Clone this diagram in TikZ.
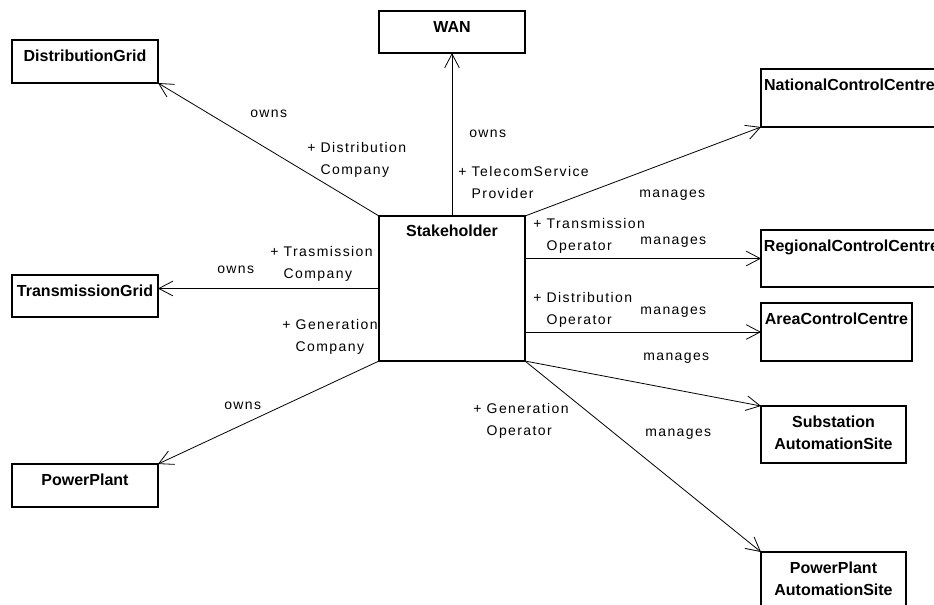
\documentclass[tikz,border=0pt]{standalone}
\usepackage{fontspec}
\setmainfont{Liberation Sans}
\newfontfamily\rolefont[LetterSpace=10]{Liberation Sans}
\usetikzlibrary{arrows.meta}

\tikzset{
  classbox/.style={draw, line width=0.8pt, inner sep=0pt, outer sep=0pt},
  classname/.style={font=\fontsize{12}{16.5}\selectfont\bfseries, inner sep=0pt, anchor=base, align=center},
  rolelabel/.style={font=\rolefont\fontsize{10.5}{16.5}\selectfont, inner sep=0pt, anchor=base west, align=left},
  assoc/.style={line width=0.6pt, -{Straight Barb[length=10.5pt,width=11pt,line width=0.6pt]}}
}

\begin{document}
\begin{tikzpicture}[x=0.75pt, y=-0.75pt]
  \fill[white] (0,0) rectangle (934,604);
  \useasboundingbox (0,0) rectangle (934,604);
  \clip (0,0) rectangle (934,604);

  % classes
  \node[classbox, minimum width=109.5pt, minimum height=32.25pt] (dg) at (85,61.5) {};
  \node[classbox, minimum width=109.5pt, minimum height=31.5pt] (wan) at (452,32) {};
  \node[classbox, minimum width=109.5pt, minimum height=31.5pt] (tg) at (85,296) {};
  \node[classbox, minimum width=109.5pt, minimum height=32.25pt] (pp) at (85,485.5) {};
  \node[classbox, minimum width=109.5pt, minimum height=108.75pt] (sh) at (452,288.5) {};
  \node[classbox, minimum width=132.75pt, minimum height=43.5pt] (ncc) at (849.5,98) {};
  \node[classbox, minimum width=135.75pt, minimum height=42.75pt] (rcc) at (851.5,258.5) {};
  \node[classbox, minimum width=113.25pt, minimum height=43.5pt] (acc) at (836.5,332) {};
  \node[classbox, minimum width=108.75pt, minimum height=42.75pt] (sas) at (833.5,434.5) {};
  \node[classbox, minimum width=108.75pt, minimum height=43.5pt] (ppas) at (833.5,581) {};

  % class names (a two-line name sits on the baseline of its last line)
  \node[classname] (dgname) at ([yshift=-15.75pt]dg.north) {DistributionGrid};
  \node[classname] (wanname) at ([yshift=-15.75pt]wan.north) {WAN};
  \node[classname] (tgname) at ([yshift=-15.75pt]tg.north) {TransmissionGrid};
  \node[classname] (ppname) at ([yshift=-15.75pt]pp.north) {PowerPlant};
  \node[classname] (shname) at ([yshift=-15pt]sh.north) {Stakeholder};
  \node[classname] (nccname) at ([yshift=-15.75pt]ncc.north) {NationalControlCentre};
  \node[classname] (rccname) at ([yshift=-15.75pt]rcc.north) {RegionalControlCentre};
  \node[classname] (accname) at ([yshift=-15.75pt]acc.north) {AreaControlCentre};
  \node[classname] (sasname) at ([yshift=-32.25pt]sas.north) {Substation\\AutomationSite};
  \node[classname] (ppasname) at ([yshift=-32.25pt]ppas.north) {PowerPlant\\AutomationSite};

  % associations
  \draw[assoc] (sh.north west) -- (dg.south east);
  \draw[assoc] (sh.north) -- (wan.south);
  \draw[assoc] (sh.west) -- (tg.east |- sh.west);
  \draw[assoc] (sh.south west) -- (pp.north east);
  \draw[assoc] (sh.north east) -- (ncc.south west);
  \draw[assoc] (sh.east |- rcc.west) -- (rcc.west);
  \draw[assoc] (sh.east |- acc.west) -- (acc.west);
  \draw[assoc] (sh.south east) -- (sas.north west);
  \draw[assoc] (sh.south east) -- (ppas.north west);

  % association and role names (two-line labels placed by their second baseline)
  \node[rolelabel] (l1) at (250,117) {owns};
  \node[rolelabel] (l2) at (307,174) {+ Distribution\\\hphantom{+ }Company};
  \node[rolelabel] (l3) at (469,137) {owns};
  \node[rolelabel] (l4) at (458,198) {+ TelecomService\\\hphantom{+ }Provider};
  \node[rolelabel] (l5) at (639,197) {manages};
  \node[rolelabel] (l6) at (533,250) {+ Transmission\\\hphantom{+ }Operator};
  \node[rolelabel] (l7) at (640,244) {manages};
  \node[rolelabel] (l8) at (270,278) {+ Trasmission\\\hphantom{+ }Company};
  \node[rolelabel] (l9) at (217,273) {owns};
  \node[rolelabel] (l10) at (282,351) {+ Generation\\\hphantom{+ }Company};
  \node[rolelabel] (l11) at (224,409) {owns};
  \node[rolelabel] (l12) at (533,324) {+ Distribution\\\hphantom{+ }Operator};
  \node[rolelabel] (l13) at (640,314) {manages};
  \node[rolelabel] (l14) at (643,360) {manages};
  \node[rolelabel] (l15) at (473,435) {+ Generation\\\hphantom{+ }Operator};
  \node[rolelabel] (l16) at (645,436) {manages};
\end{tikzpicture}
\end{document}
